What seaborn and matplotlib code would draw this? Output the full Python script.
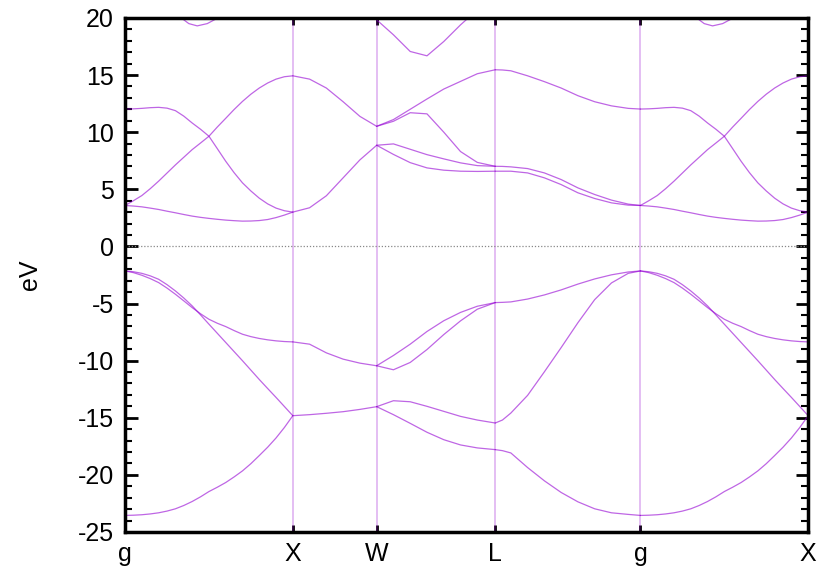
import matplotlib
matplotlib.use('Agg')
import matplotlib.pyplot as plt
from matplotlib.ticker import MultipleLocator
import pandas as pd
import seaborn as sns

# high symmetry points along the path (path length units)
labels = ['g', 'X', 'W', 'L', 'g', 'X']
kpts = [0.0, 1.0, 1.5, 2.207, 3.073, 4.073]

# k grids of each segment
k_gx = [0.0, 0.05, 0.1, 0.15, 0.2, 0.25, 0.3, 0.35, 0.4, 0.45, 0.5,
        0.55, 0.6, 0.65, 0.7, 0.75, 0.8, 0.85, 0.9, 0.95, 1.0]
k_xw = [1.0, 1.1, 1.2, 1.3, 1.4, 1.5]
k_wl = [1.5, 1.6, 1.7, 1.8, 1.9, 2.0, 2.1, 2.207]
k_lg = [2.207, 2.25, 2.3, 2.4, 2.5, 2.6, 2.7, 2.8, 2.9, 3.0, 3.073]
k_top = [0.33, 0.38, 0.43, 0.49, 0.56]

# g -> X  (same shape for both g-X pieces)
gx_c1 = [3.58, 3.53, 3.46, 3.35, 3.23, 3.08, 2.94, 2.79, 2.65, 2.54, 2.45,
         2.37, 2.30, 2.25, 2.21, 2.22, 2.26, 2.35, 2.52, 2.74, 3.00]
gx_c2 = [3.58, 4.00, 4.45, 5.05, 5.71, 6.42, 7.13, 7.80, 8.47, 9.05, 9.64,
         10.45, 11.21, 11.98, 12.69, 13.32, 13.86, 14.30, 14.64, 14.85, 14.93]
gx_c3 = [12.02, 12.04, 12.08, 12.14, 12.17, 12.10, 11.88, 11.40, 10.80, 10.25, 9.64,
         8.55, 7.45, 6.45, 5.56, 4.85, 4.22, 3.72, 3.35, 3.12, 3.00]
gx_top = [20.05, 19.5, 19.3, 19.5, 20.05]
gx_v1 = [-23.55, -23.53, -23.49, -23.42, -23.32, -23.17, -22.97, -22.68, -22.33, -21.92, -21.46,
         -21.08, -20.67, -20.18, -19.65, -19.02, -18.31, -17.58, -16.77, -15.85, -14.82]
gx_v2 = [-2.15, -2.22, -2.36, -2.58, -2.88, -3.35, -3.90, -4.52, -5.21, -6.00, -6.81,
         -7.61, -8.41, -9.21, -10.01, -10.83, -11.65, -12.44, -13.22, -14.02, -14.82]
gx_v3 = [-2.15, -2.30, -2.53, -2.82, -3.17, -3.65, -4.19, -4.77, -5.36, -5.90, -6.38,
         -6.73, -7.02, -7.37, -7.69, -7.90, -8.06, -8.18, -8.27, -8.33, -8.36]

# X -> W
xw_c1 = [3.00, 3.38, 4.43, 6.00, 7.57, 8.85]
xw_c2 = [14.93, 14.64, 13.86, 12.66, 11.38, 10.51]
xw_v1 = [-8.36, -8.56, -9.32, -9.87, -10.22, -10.45]
xw_v2 = [-14.82, -14.73, -14.61, -14.47, -14.27, -14.03]

# W -> L
wl_ca = [10.51, 11.10, 12.00, 12.90, 13.77, 14.44, 15.11, 15.46]
wl_cb = [10.51, 10.95, 11.70, 11.60, 10.00, 8.30, 7.35, 7.01]
wl_cc = [8.85, 8.97, 8.50, 8.03, 7.66, 7.31, 7.07, 7.01]
wl_cd = [8.85, 8.05, 7.33, 6.87, 6.67, 6.58, 6.56, 6.58]
wl_ce = [19.83, 18.52, 17.06, 16.68, 17.93, 19.39, 20.70]
wl_va = [-10.45, -9.55, -8.56, -7.45, -6.51, -5.78, -5.24, -4.92]
wl_vb = [-10.45, -10.80, -10.16, -9.03, -7.72, -6.52, -5.50, -4.92]
wl_vc = [-14.03, -13.51, -13.60, -14.00, -14.44, -14.88, -15.20, -15.46]
wl_vd = [-14.03, -14.73, -15.49, -16.27, -16.92, -17.38, -17.64, -17.79]

# L -> g
lg_cf = [15.46, 15.44, 15.37, 14.93, 14.42, 13.86, 13.19, 12.66, 12.30, 12.08, 12.02]
lg_cg = [7.01, 7.00, 6.96, 6.81, 6.43, 5.85, 5.12, 4.54, 4.05, 3.70, 3.58]
lg_ch = [6.58, 6.58, 6.58, 6.43, 6.00, 5.41, 4.69, 4.19, 3.81, 3.61, 3.58]
lg_ve = [-4.92, -4.90, -4.86, -4.61, -4.25, -3.81, -3.30, -2.85, -2.49, -2.24, -2.15]
lg_vf = [-15.46, -15.20, -14.59, -13.04, -10.98, -8.86, -6.68, -4.66, -3.20, -2.36, -2.15]
lg_vg = [-17.79, -17.88, -18.08, -19.36, -20.52, -21.54, -22.36, -22.97, -23.32, -23.46, -23.55]

pieces = []
def add(name, ks, es):
    pieces.append(pd.DataFrame({'k': ks, 'E': es, 'band': name}))

gx_bands = {'c1': gx_c1, 'c2': gx_c2, 'c3': gx_c3, 'v1': gx_v1, 'v2': gx_v2, 'v3': gx_v3}
for n, e in gx_bands.items():
    add('gx1' + n, k_gx, e)
    add('gx2' + n, [kpts[4] + k for k in k_gx], e)
add('gx1top', k_top, gx_top)
add('gx2top', [kpts[4] + k for k in k_top], gx_top)

for n, e in {'c1': xw_c1, 'c2': xw_c2, 'v1': xw_v1, 'v2': xw_v2}.items():
    add('xw' + n, k_xw, e)
for n, e in {'ca': wl_ca, 'cb': wl_cb, 'cc': wl_cc, 'cd': wl_cd, 'va': wl_va,
             'vb': wl_vb, 'vc': wl_vc, 'vd': wl_vd}.items():
    add('wl' + n, k_wl, e)
add('wlce', k_wl[:7], wl_ce)
for n, e in {'cf': lg_cf, 'cg': lg_cg, 'ch': lg_ch, 've': lg_ve, 'vf': lg_vf, 'vg': lg_vg}.items():
    add('lg' + n, k_lg, e)

df = pd.concat(pieces, ignore_index=True)

sns.set_style('white')
plt.rcParams['font.family'] = ['Liberation Sans', 'DejaVu Sans']
plt.rcParams['axes.unicode_minus'] = False
plt.rcParams['text.color'] = 'black'
plt.rcParams['axes.labelcolor'] = 'black'
plt.rcParams['xtick.color'] = 'black'
plt.rcParams['ytick.color'] = 'black'

fig = plt.figure(figsize=(8.23, 5.77), dpi=100)
ax = fig.add_axes([0.152, 0.078, 0.830, 0.891])

for k in kpts[1:-1]:
    ax.axvline(k, color='#9400d3', alpha=0.3, lw=1.2, zorder=1)
ax.axhline(0, color='#888888', ls=(0, (1, 1.5)), lw=0.9, zorder=1)

sns.lineplot(data=df, x='k', y='E', units='band', estimator=None, sort=False,
             color='#9400d3', lw=0.9, alpha=0.6, ax=ax, zorder=2)

ax.set_xlim(kpts[0], kpts[-1])
ax.set_ylim(-25, 20)
ax.set_xticks(kpts)
ax.set_xticklabels(labels)
ax.yaxis.set_major_locator(MultipleLocator(5))
ax.yaxis.set_minor_locator(MultipleLocator(1))
ax.tick_params(axis='y', which='major', direction='in', length=9, width=2, left=True, right=True, labelsize=18, pad=8)
ax.tick_params(axis='y', which='minor', direction='in', length=5, width=1.5, left=True, right=True)
ax.tick_params(axis='x', which='major', direction='in', length=5, width=2, top=True, bottom=True, labelsize=18, pad=7)
ax.set_xlabel('')
ax.set_ylabel('eV', fontsize=18, labelpad=26)
for s in ax.spines.values():
    s.set_linewidth(2.5)
    s.set_color('black')

fig.savefig('out.png', dpi=100)
